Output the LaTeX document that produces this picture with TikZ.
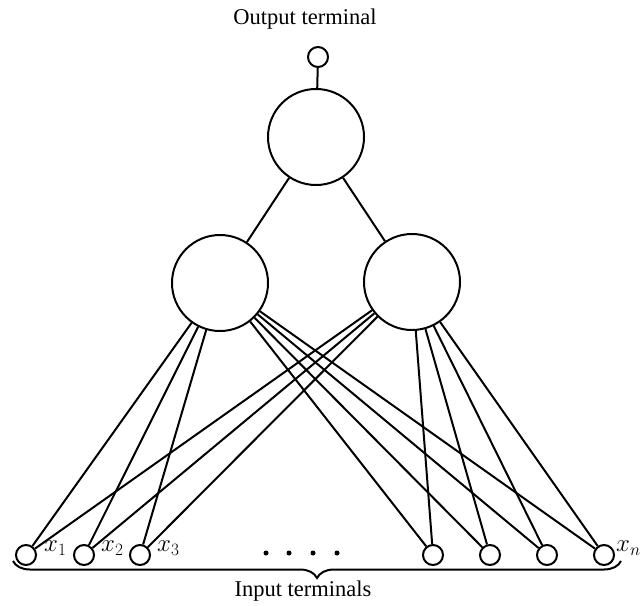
\documentclass[tikz,border=0pt]{standalone}
\usepackage{fontspec}
\setmainfont{Liberation Serif}
\usetikzlibrary{decorations.pathreplacing}
\begin{document}
\begin{tikzpicture}[x=1pt,y=-1pt,
  wire/.style={line width=2pt},
  bigunit/.style={circle,draw,line width=2pt,minimum size=96pt,inner sep=0pt},
  term/.style={circle,draw,line width=2pt,minimum size=20pt,inner sep=0pt},
  dotnode/.style={circle,fill,minimum size=5pt,inner sep=0pt},
  lbl/.style={font=\fontsize{22.5}{26}\selectfont,inner sep=0pt},
  xl/.style={font=\fontsize{23}{26}\selectfont,inner sep=0pt,anchor=west}]
\useasboundingbox (0,0) rectangle (644,605);
\node[lbl] (outtxt) at (305,19) {Output terminal};
\node[term] (o) at (318,57) {};
\node[bigunit] (top) at (316,137) {};
\node[bigunit] (hl) at (220,283) {};
\node[bigunit] (hr) at (412,282) {};
\foreach \n/\x in {1/26,2/84,3/140,4/433,5/490,6/547,7/604}{
  \node[term] (i\n) at (\x,555) {};
}
\foreach \n/\x in {1/266,2/289,3/313,4/337}{
  \node[dotnode] (d\n) at (\x,553) {};
}
\node[xl] (l1) at (44,548) {$x_1$};
\node[xl] (l2) at (101,548) {$x_2$};
\node[xl] (l3) at (157,548) {$x_3$};
\node[xl] (ln) at (616,548) {$x_n$};
\draw[wire] (o) -- (top);
\draw[wire] (top) -- (hl);
\draw[wire] (top) -- (hr);
\foreach \n in {1,...,7}{
  \draw[wire] (hl) -- (i\n);
  \draw[wire] (hr) -- (i\n);
}
\coordinate (bl) at (13,561);
\coordinate (br) at (621,561);
\draw[wire,decorate,decoration={brace,mirror,amplitude=17pt}] (bl) -- (br);
\node[lbl] (intxt) at (303,591) {Input terminals};
\end{tikzpicture}
\end{document}
